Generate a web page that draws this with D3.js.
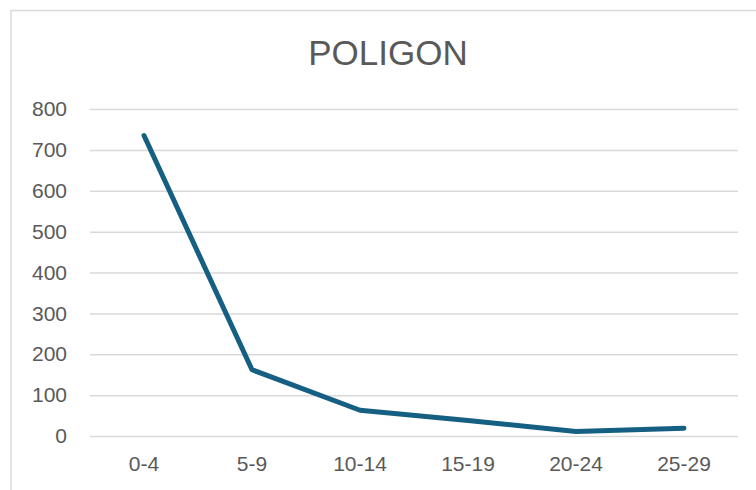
<!DOCTYPE html>
<html>
<head>
<meta charset="utf-8">
<script src="https://cdn.jsdelivr.net/npm/d3@7"></script>
<style>
  body { margin: 0; background: #fff; }
  text { font-family: "Liberation Sans", Arial, sans-serif; fill: #595959; }
</style>
</head>
<body>
<div id="chart"></div>
<script>
var categories = ["0-4", "5-9", "10-14", "15-19", "20-24", "25-29"];
var values = [735, 162, 63, 38, 11, 19];
var yTicks = [0, 100, 200, 300, 400, 500, 600, 700, 800];

var W = 756, H = 490;
var margin = {top: 109, right: 18, bottom: 54, left: 90};

var svg = d3.select("#chart").append("svg")
    .attr("width", W)
    .attr("height", H);

// chart area border
svg.append("rect")
    .attr("x", 11).attr("y", 10.5)
    .attr("width", W).attr("height", H)
    .attr("fill", "none")
    .attr("stroke", "#d9d9d9")
    .attr("stroke-width", 1.5);

var x = d3.scaleBand().domain(categories).range([margin.left, W - margin.right]);
var y = d3.scaleLinear().domain([0, 800]).range([H - margin.bottom, margin.top]);

// title
svg.append("text")
    .attr("x", 388).attr("y", 65)
    .attr("text-anchor", "middle")
    .style("font-size", "35px")
    .text("POLIGON");

// gridlines + y labels
var yAxis = svg.append("g")
    .attr("transform", "translate(" + margin.left + ",0)")
    .call(d3.axisLeft(y).tickValues(yTicks).tickSize(-(W - margin.left - margin.right)).tickPadding(23));
yAxis.select(".domain").remove();
yAxis.selectAll("line").attr("stroke", "#d9d9d9").attr("stroke-width", 1.5);
yAxis.selectAll("text").style("font-size", "21px").attr("fill", "#595959");

// x labels
var xAxis = svg.append("g")
    .attr("transform", "translate(0," + (H - margin.bottom) + ")")
    .call(d3.axisBottom(x).tickSize(0).tickPadding(20));
xAxis.select(".domain").remove();
xAxis.selectAll("text").style("font-size", "21px").attr("fill", "#595959");

var line = d3.line()
    .x(function(d, i) { return x(categories[i]) + x.bandwidth() / 2; })
    .y(function(d) { return y(d); });

svg.append("path")
    .datum(values)
    .attr("d", line)
    .attr("fill", "none")
    .attr("stroke", "#156082")
    .attr("stroke-width", 5)
    .attr("stroke-linecap", "round")
    .attr("stroke-linejoin", "round");
</script>
</body>
</html>
